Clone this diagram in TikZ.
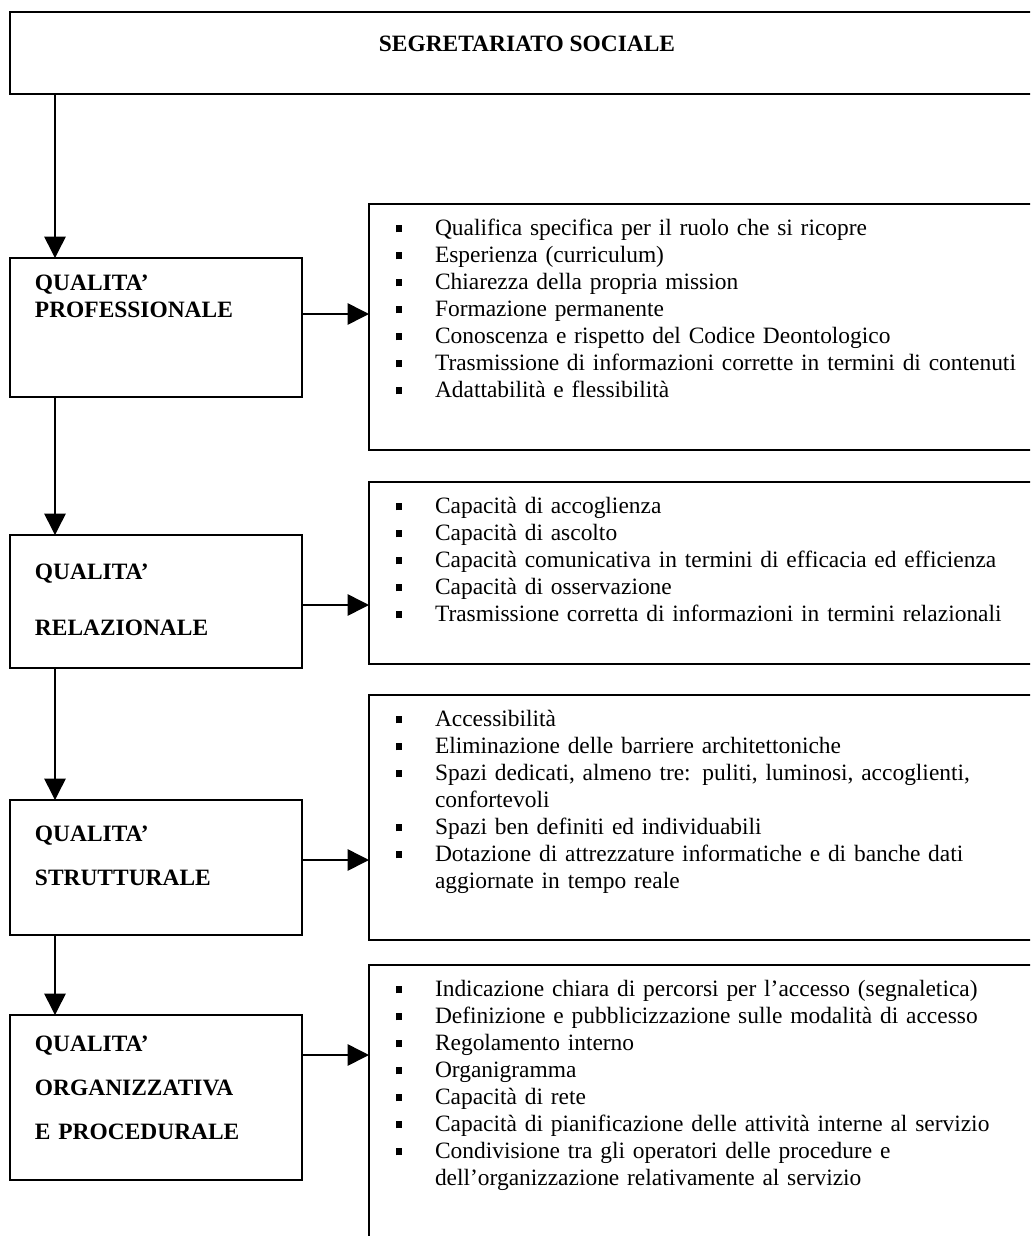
\documentclass[tikz,border=0pt]{standalone}
\usepackage{fontspec}
\setmainfont{Liberation Serif}
\usetikzlibrary{arrows.meta}

\newcommand{\pxs}{0.18mm}
\newcommand{\bul}{\makebox[21pt][l]{\hspace*{1pt}\raisebox{1.4pt}{\rule{3.2pt}{3.5pt}}}}
\newcommand{\cont}{\hspace*{21pt}}

\begin{document}
\begin{tikzpicture}[
        x                   = 0.18mm,
        y                   = -0.18mm,
        every node/.style   = {inner sep=0pt, outer sep=0pt},
        framed/.style       = {draw, line width=0.8pt, anchor=north west},
        qualbox/.style      = {framed, minimum width=292*\pxs},
        listbox/.style      = {framed, minimum width=676*\pxs},
        qualtext/.style     = {anchor=base west, text width=80mm, align=left,
                               font=\fontsize{12}{13.83}\selectfont\bfseries},
        listtext/.style     = {anchor=base west, text width=130mm, align=left,
                               font=\fontsize{12}{13.83}\selectfont},
        arr/.style          = {line width=0.8pt, -{Triangle[length=11pt,width=11pt]}},
      ]
        \useasboundingbox (0,0) rectangle (1030,1236);
        \clip (0,0) rectangle (1030,1236);

        % title
        \node[framed, minimum width=1034*\pxs, minimum height=82*\pxs] (seg) at (10,12) {};
        \node[anchor=base, font=\fontsize{12}{13.83}\selectfont\bfseries] (segtxt)
            at ([shift={(517,39)}]seg.north west) {SEGRETARIATO SOCIALE};

        % left column
        \node[qualbox, minimum height=139*\pxs] (prof) at (10,258) {};
        \node[qualbox, minimum height=133*\pxs] (rel)  at (10,535) {};
        \node[qualbox, minimum height=135*\pxs] (strut) at (10,800) {};
        \node[qualbox, minimum height=165*\pxs] (org)  at (10,1015) {};

        \node[qualtext] (proftxt) at ([shift={(25,32)}]prof.north west)
            {QUALITA’\\ PROFESSIONALE};
        \node[qualtext] (reltxt) at ([shift={(25,44)}]rel.north west)
            {QUALITA’\\[14.9pt] RELAZIONALE};
        \node[qualtext] (struttxt) at ([shift={(25,41)}]strut.north west)
            {QUALITA’\\[8.7pt] STRUTTURALE};
        \node[qualtext] (orgtxt) at ([shift={(25,36)}]org.north west)
            {QUALITA’\\[8.7pt] ORGANIZZATIVA\\[8.7pt] E PROCEDURALE};

        % right column
        \node[listbox, minimum height=246*\pxs] (profl)  at (369,204) {};
        \node[listbox, minimum height=182*\pxs] (rell)   at (369,482) {};
        \node[listbox, minimum height=245*\pxs] (strutl) at (369,695) {};
        \node[listbox, minimum height=300*\pxs] (orgl)   at (369,965) {};

        \node[listtext] (profltxt) at ([shift={(25,31)}]profl.north west) {%
            \bul Qualifica specifica per il ruolo che si ricopre\\
            \bul Esperienza (curriculum)\\
            \bul Chiarezza della propria mission\\
            \bul Formazione permanente\\
            \bul Conoscenza e rispetto del Codice Deontologico\\
            \bul Trasmissione di informazioni corrette in termini di contenuti\\
            \bul Adattabilità e flessibilità};
        \node[listtext] (relltxt) at ([shift={(25,31)}]rell.north west) {%
            \bul Capacità di accoglienza\\
            \bul Capacità di ascolto\\
            \bul Capacità comunicativa in termini di efficacia ed efficienza\\
            \bul Capacità di osservazione\\
            \bul Trasmissione corretta di informazioni in termini relazionali};
        \node[listtext] (strutltxt) at ([shift={(25,31)}]strutl.north west) {%
            \bul Accessibilità\\
            \bul Eliminazione delle barriere architettoniche\\
            \bul Spazi dedicati, almeno tre: puliti, luminosi, accoglienti,\\
            \cont confortevoli\\
            \bul Spazi ben definiti ed individuabili\\
            \bul Dotazione di attrezzature informatiche e di banche dati\\
            \cont aggiornate in tempo reale};
        \node[listtext] (orgltxt) at ([shift={(25,31)}]orgl.north west) {%
            \bul Indicazione chiara di percorsi per l’accesso (segnaletica)\\
            \bul Definizione e pubblicizzazione sulle modalità di accesso\\
            \bul Regolamento interno\\
            \bul Organigramma\\
            \bul Capacità di rete\\
            \bul Capacità di pianificazione delle attività interne al servizio\\
            \bul Condivisione tra gli operatori delle procedure e\\
            \cont dell’organizzazione relativamente al servizio};

        % connectors
        \coordinate (spine) at (55,0);
        \coordinate (a1) at (0,314);
        \coordinate (a2) at (0,605);
        \coordinate (a3) at (0,860);
        \coordinate (a4) at (0,1055);

        \draw[arr] (seg.south -| spine)   -- (prof.north -| spine);
        \draw[arr] (prof.south -| spine)  -- (rel.north -| spine);
        \draw[arr] (rel.south -| spine)   -- (strut.north -| spine);
        \draw[arr] (strut.south -| spine) -- (org.north -| spine);

        \draw[arr] (prof.east |- a1)  -- (profl.west |- a1);
        \draw[arr] (rel.east |- a2)   -- (rell.west |- a2);
        \draw[arr] (strut.east |- a3) -- (strutl.west |- a3);
        \draw[arr] (org.east |- a4)   -- (orgl.west |- a4);
    \end{tikzpicture}
\end{document}
